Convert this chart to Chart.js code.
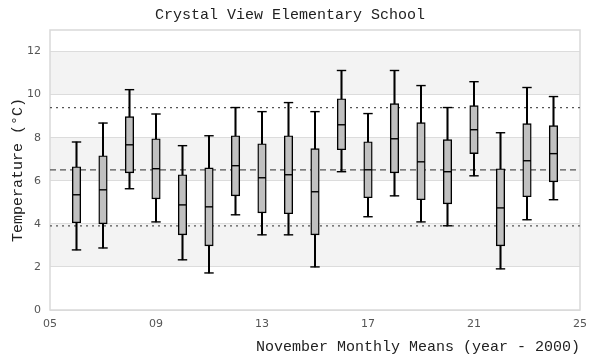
<!DOCTYPE html>
<html>
<head>
<meta charset="utf-8">
<script src="https://cdn.jsdelivr.net/npm/chart.js@4.4.1/dist/chart.umd.min.js"></script>
<style>
  html, body { margin: 0; padding: 0; background: #fff; }
  #wrap { width: 600px; height: 360px; }
</style>
</head>
<body>
<div id="wrap"><canvas id="boxChart"></canvas></div>
<script>
// November monthly means, years 2006-2024 (year - 2000)
const years   = [6, 7, 8, 9, 10, 11, 12, 13, 14, 15, 16, 17, 18, 19, 20, 21, 22, 23, 24];
const minVals = [2.79, 2.88, 5.63, 4.09, 2.33, 1.72, 4.42, 3.49, 3.49, 2.00, 6.42, 4.33, 5.30, 4.09, 3.91, 6.23, 1.91, 4.19, 5.12];
const q1Vals  = [4.05, 4.00, 6.37, 5.16, 3.49, 2.98, 5.30, 4.51, 4.47, 3.49, 7.44, 5.21, 6.37, 5.12, 4.93, 7.26, 2.98, 5.26, 5.95];
const medVals = [5.35, 5.58, 7.67, 6.56, 4.88, 4.79, 6.70, 6.14, 6.28, 5.49, 8.60, 6.51, 7.95, 6.88, 6.42, 8.37, 4.74, 6.93, 7.26];
const q3Vals  = [6.65, 7.16, 8.98, 7.95, 6.28, 6.60, 8.09, 7.72, 8.09, 7.49, 9.81, 7.81, 9.58, 8.70, 7.91, 9.49, 6.56, 8.65, 8.56];
const maxVals = [7.80, 8.68, 10.23, 9.10, 7.63, 8.09, 9.40, 9.21, 9.63, 9.21, 11.12, 9.12, 11.12, 10.42, 9.40, 10.60, 8.23, 10.33, 9.91];

// reference lines: overall mean and the band around it
const meanLine  = 6.51;
const upperLine = 9.40;
const lowerLine = 3.91;

const xRange = [5, 25];
const bandRanges = [[2, 4], [6, 8], [10, 12]];

const monoFont = "'Liberation Mono', 'DejaVu Sans Mono', monospace";
const tickFont = "'DejaVu Sans', 'Open Sans', sans-serif";

function hLine(y) {
    return [{x: xRange[0], y: y}, {x: xRange[1], y: y}];
}

// grey bands behind the plot
const bandPlugin = {
    id: 'bands',
    beforeDraw(chart) {
        const {ctx, chartArea} = chart;
        const yScale = chart.scales.y;
        ctx.save();
        ctx.fillStyle = '#f3f3f3';
        bandRanges.forEach(([lo, hi]) => {
            const top = yScale.getPixelForValue(hi);
            const bottom = yScale.getPixelForValue(lo);
            ctx.fillRect(chartArea.left, top, chartArea.right - chartArea.left, bottom - top);
        });
        ctx.restore();
    }
};

// light frame round the plot area
const framePlugin = {
    id: 'frame',
    beforeDatasetsDraw(chart) {
        const {ctx, chartArea} = chart;
        ctx.save();
        ctx.strokeStyle = '#d9d9d9';
        ctx.lineWidth = 1.5;
        ctx.strokeRect(chartArea.left, chartArea.top, chartArea.right - chartArea.left, chartArea.bottom - chartArea.top);
        ctx.restore();
    }
};

function initializeChart() {
    const ctx = document.getElementById('boxChart');

    const refStyle = {
        type: 'line',
        borderColor: '#555',
        borderWidth: 1.3,
        pointRadius: 0,
        fill: false,
        order: 10
    };

    const datasets = [
        {...refStyle, data: hLine(meanLine), borderDash: [6, 4]},
        {...refStyle, data: hLine(upperLine), borderDash: [2, 4]},
        {...refStyle, data: hLine(lowerLine), borderDash: [2, 4]},
        {
            // whisker stems
            type: 'bar',
            data: years.map((x, i) => ({x: x, y: [minVals[i], maxVals[i]]})),
            backgroundColor: '#000',
            borderWidth: 0,
            barThickness: 1.4,
            grouped: false,
            order: 5
        },
        {
            // boxes
            type: 'bar',
            data: years.map((x, i) => ({x: x, y: [q1Vals[i], q3Vals[i]]})),
            backgroundColor: '#c0c0c0',
            borderColor: '#000',
            borderWidth: 1.4,
            borderSkipped: false,
            barThickness: 8.5,
            grouped: false,
            order: 4
        },
        {
            // medians
            type: 'scatter',
            data: years.map((x, i) => ({x: x, y: medVals[i]})),
            pointStyle: 'line',
            pointRadius: 4,
            borderColor: '#000',
            borderWidth: 1.4,
            order: 2
        },
        {
            // whisker caps
            type: 'scatter',
            data: years.flatMap((x, i) => [{x: x, y: minVals[i]}, {x: x, y: maxVals[i]}]),
            pointStyle: 'line',
            pointRadius: 4.7,
            borderColor: '#000',
            borderWidth: 1.4,
            order: 2
        }
    ];

    new Chart(ctx, {
        type: 'bar',
        data: {datasets: datasets},
        plugins: [bandPlugin, framePlugin],
        options: {
            responsive: true,
            maintainAspectRatio: false,
            animation: false,
            layout: {padding: {left: 0, right: 20, top: 0, bottom: 0}},
            plugins: {
                legend: {display: false},
                tooltip: {enabled: false},
                title: {
                    display: true,
                    text: 'Crystal View Elementary School',
                    color: '#222',
                    font: {family: monoFont, size: 15, weight: 'normal', lineHeight: 1.2},
                    padding: {top: 6, bottom: 6}
                }
            },
            scales: {
                x: {
                    type: 'linear',
                    min: xRange[0],
                    max: xRange[1],
                    offset: false,
                    grid: {display: false, drawTicks: false},
                    border: {display: false},
                    ticks: {
                        stepSize: 4,
                        padding: 8,
                        color: '#555',
                        font: {family: tickFont, size: 11},
                        maxRotation: 0,
                        callback: v => String(v).padStart(2, '0')
                    },
                    title: {
                        display: true,
                        text: 'November Monthly Means (year - 2000)',
                        align: 'end',
                        color: '#222',
                        font: {family: monoFont, size: 15, weight: 'normal', lineHeight: 1.2},
                        padding: {top: 0, bottom: 4}
                    },
                    afterFit(scale) { scale.height = 50; }
                },
                y: {
                    min: 0,
                    max: 13,
                    grid: {color: '#dcdcdc', lineWidth: 1, drawTicks: false},
                    border: {display: false},
                    ticks: {
                        stepSize: 2,
                        includeBounds: false,
                        padding: 9,
                        color: '#555',
                        font: {family: tickFont, size: 11}
                    },
                    title: {
                        display: true,
                        text: 'Temperature (°C)',
                        color: '#222',
                        font: {family: monoFont, size: 15, weight: 'normal', lineHeight: 1.2},
                        padding: {top: 9, bottom: 0}
                    },
                    afterFit(scale) { scale.width = 50; }
                }
            }
        }
    });
}

document.addEventListener('DOMContentLoaded', initializeChart);
</script>
</body>
</html>
